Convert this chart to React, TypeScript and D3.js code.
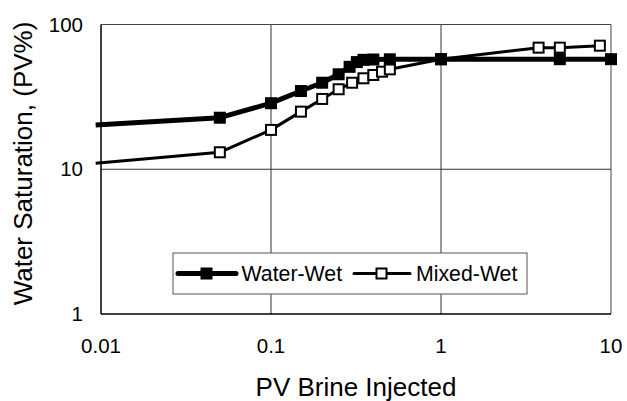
import React from "react";
import * as d3 from "d3";

const xTicks = [0.01, 0.1, 1, 10];
const yTicks = [1, 10, 100];
const xTickLabels = ["0.01", "0.1", "1", "10"];
const yTickLabels = ["1", "10", "100"];

const waterWetX = [0.0093, 0.05, 0.1, 0.15, 0.2, 0.25, 0.29, 0.32, 0.35, 0.4, 0.5, 1, 5, 10];
const waterWetY = [20.2, 22.7, 28.6, 34.7, 39.6, 45.3, 51, 55, 57, 57.3, 57.5, 57.6, 57.6, 57.6];
const mixedWetX = [0.0093, 0.05, 0.1, 0.15, 0.2, 0.25, 0.3, 0.35, 0.4, 0.45, 0.5, 1, 3.75, 5, 8.6];
const mixedWetY = [11.0, 13.1, 18.7, 25, 30.6, 35.7, 39.6, 42.5, 44.8, 47.2, 49, 57.5, 69.2, 69.2, 71.4];

const seriesNames = ["Water-Wet", "Mixed-Wet"];
const xTitle = "PV Brine Injected";
const yTitle = "Water Saturation, (PV%)";

const W = 627;
const H = 401;
const L = 101;
const R = 611;
const T = 24.5;
const B = 314;
const FONT = "'Liberation Sans', Arial, sans-serif";

export default function App() {
  const x = d3.scaleLog().domain([0.01, 10]).range([L, R]);
  const y = d3.scaleLog().domain([1, 100]).range([B, T]);
  const line = d3
    .line<[number, number]>()
    .x((d) => x(d[0]))
    .y((d) => y(d[1]));
  const ww: [number, number][] = waterWetX.map((v, i) => [v, waterWetY[i]]);
  const mw: [number, number][] = mixedWetX.map((v, i) => [v, mixedWetY[i]]);
  const inRange = (v: number) => v >= 0.01;

  return (
    <div style={{ position: "absolute", left: 0, top: 0 }}>
      <svg width={W} height={H} style={{ display: "block", background: "#fff" }} fontFamily={FONT}>
        {/* grid */}
        {xTicks.slice(1, -1).map((t) => (
          <line key={"gx" + t} x1={x(t)} x2={x(t)} y1={T} y2={B} stroke="#333" strokeWidth={1} />
        ))}
        {yTicks.slice(1, -1).map((t) => (
          <line key={"gy" + t} x1={L} x2={R} y1={y(t)} y2={y(t)} stroke="#333" strokeWidth={1} />
        ))}
        {/* frame */}
        <line x1={L} x2={R} y1={T} y2={T} stroke="#444" strokeWidth={1} />
        <line x1={R} x2={R} y1={T} y2={B} stroke="#444" strokeWidth={1} />
        <line x1={L} x2={L} y1={T} y2={B} stroke="#000" strokeWidth={1.5} />
        <line x1={L} x2={R} y1={B} y2={B} stroke="#000" strokeWidth={1.5} />

        {/* tick labels */}
        {xTicks.map((t, i) => (
          <text key={"xt" + t} x={x(t)} y={353} textAnchor="middle" fontSize={20.5} fill="#000">
            {xTickLabels[i]}
          </text>
        ))}
        {yTicks.map((t, i) => (
          <text key={"yt" + t} x={83} y={y(t) + 7} textAnchor="end" fontSize={20.5} fill="#000">
            {yTickLabels[i]}
          </text>
        ))}

        {/* titles */}
        <text x={(L + R) / 2} y={396} textAnchor="middle" fontSize={26} fill="#000">
          {xTitle}
        </text>
        <text
          transform={`translate(32, ${163.5}) rotate(-90)`}
          textAnchor="middle"
          fontSize={26}
          fill="#000"
        >
          {yTitle}
        </text>

        {/* series */}
        <path d={line(mw) || ""} fill="none" stroke="#000" strokeWidth={3} strokeLinejoin="round" />
        {mw.filter((d) => inRange(d[0])).map((d, i) => (
          <rect
            key={"mm" + i}
            x={x(d[0]) - 5}
            y={y(d[1]) - 5}
            width={10}
            height={10}
            fill="#fff"
            stroke="#000"
            strokeWidth={2}
          />
        ))}
        <path d={line(ww) || ""} fill="none" stroke="#000" strokeWidth={5} strokeLinejoin="round" />
        {ww.filter((d) => inRange(d[0])).map((d, i) => (
          <rect
            key={"wm" + i}
            x={x(d[0]) - 6}
            y={y(d[1]) - 6}
            width={12}
            height={12}
            fill="#000"
          />
        ))}

        {/* legend */}
        <rect x={173} y={253} width={354} height={41} fill="#fff" stroke="#555" strokeWidth={1} />
        <line x1={178} x2={236} y1={273.5} y2={273.5} stroke="#000" strokeWidth={5} strokeLinecap="round" />
        <rect x={200.5} y={267.5} width={12} height={12} fill="#000" />
        <text x={241.5} y={281} fontSize={21.3} fill="#000">
          {seriesNames[0]}
        </text>
        <line x1={354} x2={410} y1={273.5} y2={273.5} stroke="#000" strokeWidth={3} strokeLinecap="round" />
        <rect x={376.5} y={268.5} width={10} height={10} fill="#fff" stroke="#000" strokeWidth={2} />
        <text x={416} y={281} fontSize={21.3} fill="#000">
          {seriesNames[1]}
        </text>
      </svg>
    </div>
  );
}
